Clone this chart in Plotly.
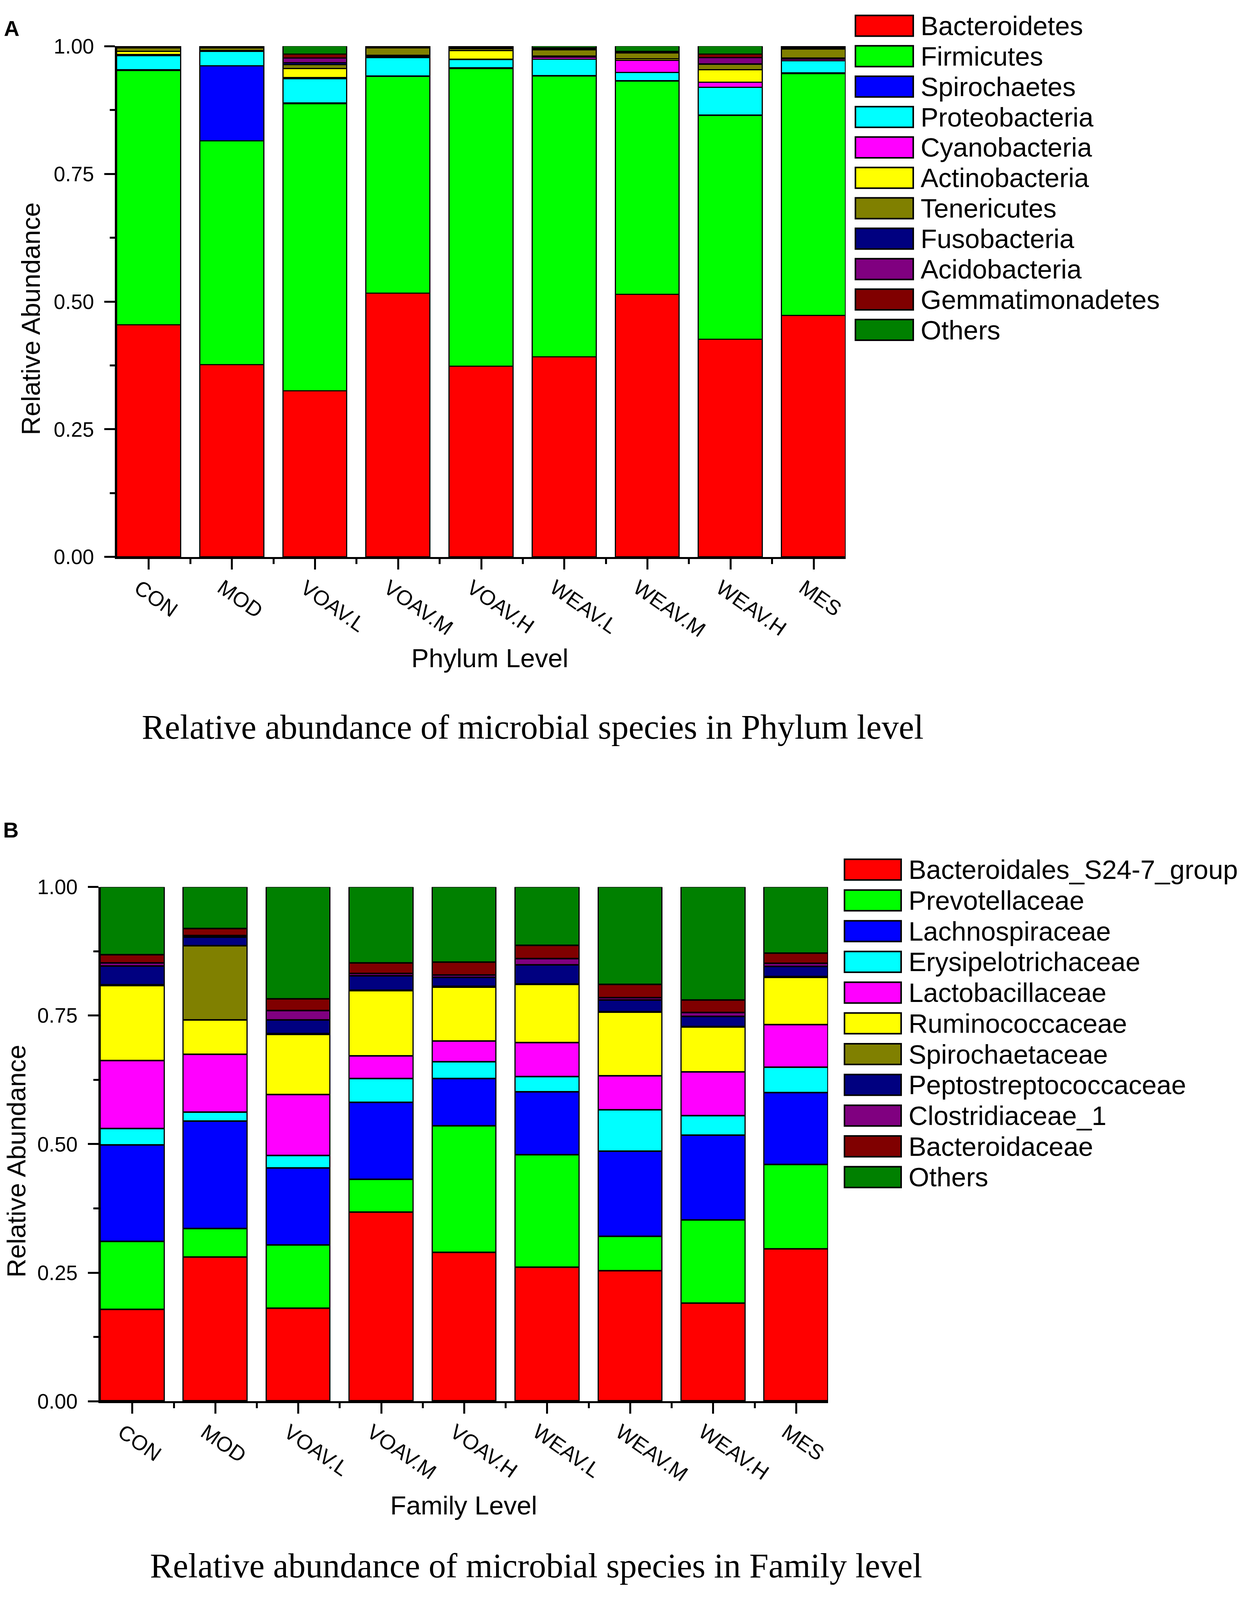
import plotly.graph_objects as go

# reference canvas used for proportional placement (figure fills the browser viewport)
W, H = 3172, 4257

groups = ["CON", "MOD", "VOAV.L", "VOAV.M", "VOAV.H", "WEAV.L", "WEAV.M", "WEAV.H", "MES"]

# ---- Phylum level (panel A) ----
phyla = ["Bacteroidetes", "Firmicutes", "Spirochaetes", "Proteobacteria", "Cyanobacteria",
         "Actinobacteria", "Tenericutes", "Fusobacteria", "Acidobacteria", "Gemmatimonadetes", "Others"]
bacteroidetes = [0.454, 0.376, 0.325, 0.516, 0.373, 0.391, 0.514, 0.426, 0.472]
firmicutes = [0.498, 0.438, 0.562, 0.424, 0.583, 0.550, 0.417, 0.438, 0.474]
spirochaetes = [0.001, 0.147, 0.001, 0.001, 0.001, 0.001, 0.001, 0.001, 0.001]
proteobacteria = [0.028, 0.028, 0.048, 0.036, 0.016, 0.032, 0.016, 0.054, 0.024]
cyanobacteria = [0.002, 0.001, 0.002, 0.002, 0.001, 0.004, 0.024, 0.010, 0.003]
actinobacteria = [0.006, 0.001, 0.018, 0.003, 0.017, 0.002, 0.003, 0.024, 0.002]
tenericutes = [0.007, 0.005, 0.007, 0.014, 0.004, 0.012, 0.011, 0.011, 0.018]
fusobacteria = [0.001, 0.002, 0.004, 0.001, 0.002, 0.002, 0.001, 0.001, 0.002]
acidobacteria = [0.001, 0.001, 0.009, 0.001, 0.001, 0.001, 0.001, 0.012, 0.001]
gemmatimonadetes = [0.001, 0.0005, 0.008, 0.001, 0.001, 0.001, 0.001, 0.007, 0.002]
others_phylum = [0.001, 0.0005, 0.016, 0.001, 0.001, 0.004, 0.011, 0.016, 0.001]
phylum_values = [bacteroidetes, firmicutes, spirochaetes, proteobacteria, cyanobacteria,
                 actinobacteria, tenericutes, fusobacteria, acidobacteria, gemmatimonadetes, others_phylum]

# ---- Family level (panel B) ----
families = ["Bacteroidales_S24-7_group", "Prevotellaceae", "Lachnospiraceae", "Erysipelotrichaceae",
            "Lactobacillaceae", "Ruminococcaceae", "Spirochaetaceae", "Peptostreptococcaceae",
            "Clostridiaceae_1", "Bacteroidaceae", "Others"]
s24_7 = [0.178, 0.280, 0.180, 0.367, 0.289, 0.260, 0.253, 0.190, 0.296]
prevotellaceae = [0.132, 0.055, 0.123, 0.064, 0.246, 0.219, 0.067, 0.162, 0.164]
lachnospiraceae = [0.188, 0.209, 0.150, 0.150, 0.092, 0.122, 0.166, 0.165, 0.140]
erysipelotrichaceae = [0.032, 0.018, 0.024, 0.046, 0.033, 0.030, 0.080, 0.038, 0.049]
lactobacillaceae = [0.132, 0.112, 0.119, 0.044, 0.040, 0.066, 0.066, 0.085, 0.083]
ruminococcaceae = [0.146, 0.067, 0.117, 0.127, 0.105, 0.113, 0.124, 0.087, 0.092]
spirochaetaceae = [0.001, 0.144, 0.001, 0.001, 0.001, 0.001, 0.001, 0.001, 0.001]
peptostreptococcaceae = [0.037, 0.017, 0.027, 0.028, 0.018, 0.037, 0.023, 0.020, 0.020]
clostridiaceae_1 = [0.006, 0.003, 0.018, 0.004, 0.004, 0.012, 0.004, 0.007, 0.006]
bacteroidaceae = [0.016, 0.014, 0.023, 0.021, 0.025, 0.026, 0.026, 0.025, 0.020]
others_family = [0.132, 0.081, 0.218, 0.148, 0.147, 0.114, 0.190, 0.220, 0.129]
family_values = [s24_7, prevotellaceae, lachnospiraceae, erysipelotrichaceae, lactobacillaceae,
                 ruminococcaceae, spirochaetaceae, peptostreptococcaceae, clostridiaceae_1,
                 bacteroidaceae, others_family]

colors = ["#FF0000", "#00FF00", "#0000FF", "#00FFFF", "#FF00FF", "#FFFF00",
          "#808000", "#000080", "#800080", "#800000", "#008000"]

y_ticks = [0, 0.25, 0.5, 0.75, 1.0]
y_ticktext = ["0.00", "0.25", "0.50", "0.75", "1.00"]

SANS = "Liberation Sans, Arial, sans-serif"
SERIF = "Liberation Serif, Times New Roman, serif"


def px_x(px):
    return px / W


def px_y(py):
    return 1 - py / H


x_idx = list(range(len(groups)))
fig = go.Figure()

for name, vals, col in zip(phyla, phylum_values, colors):
    fig.add_trace(go.Bar(x=x_idx, y=vals, name=name, width=0.77, xaxis="x", yaxis="y",
                         marker=dict(color=col, line=dict(color="black", width=3.5)),
                         hovertext=groups, showlegend=False))
for name, vals, col in zip(families, family_values, colors):
    fig.add_trace(go.Bar(x=x_idx, y=vals, name=name, width=0.77, xaxis="x2", yaxis="y2",
                         marker=dict(color=col, line=dict(color="black", width=3.5)),
                         hovertext=groups, showlegend=False))

LW = 4.5


def xaxis_cfg(domain, anchor):
    return dict(domain=domain, anchor=anchor, range=[-0.385, len(groups) - 1 + 0.385],
                showline=True, linecolor="black", linewidth=LW, mirror=False,
                ticks="outside", tickmode="array", tickvals=x_idx, ticklen=27, tickwidth=LW,
                tickcolor="black", showticklabels=False, showgrid=False, zeroline=False,
                minor=dict(tickmode="array", tickvals=[i + 0.5 for i in x_idx[:-1]],
                           ticks="outside", ticklen=13, tickwidth=LW, tickcolor="black",
                           showgrid=False))


def yaxis_cfg(domain, anchor):
    return dict(domain=domain, anchor=anchor, range=[0, 1.0], showline=True, linecolor="black",
                linewidth=LW, ticks="outside", tickmode="array", tickvals=y_ticks,
                ticktext=y_ticktext, ticklen=27, tickwidth=LW, tickcolor="black",
                tickfont=dict(family=SANS, size=53, color="black"), ticklabelstandoff=16,
                showgrid=False, zeroline=False,
                minor=dict(tickmode="array", tickvals=[0.125, 0.375, 0.625, 0.875],
                           ticks="outside", ticklen=13, tickwidth=LW, tickcolor="black",
                           showgrid=False))


annotations = []
shapes = []

# rotated category labels for both panels
for xref, yref in (("x", "y"), ("x2", "y2")):
    for i, g in enumerate(groups):
        annotations.append(dict(x=x_idx[i], y=0, xref=xref, yref=yref, text=g, showarrow=False,
                                textangle=35, xanchor="left", yanchor="top", xshift=-50, yshift=-44,
                                font=dict(family=SANS, size=54, color="black")))


def text_ann(px, py, text, size, family=SANS, angle=0, bold=False, xanchor="center"):
    t = "<b>%s</b>" % text if bold else text
    annotations.append(dict(x=px_x(px), y=px_y(py), xref="paper", yref="paper", text=t,
                            showarrow=False, textangle=angle, xanchor=xanchor, yanchor="middle",
                            borderpad=0,
                            font=dict(family=family, size=size, color="black")))


# panel A texts
text_ann(30, 46, "A", 55, bold=True)
text_ann(78, 830, "Relative Abundance", 67, angle=-90)
text_ann(1254, 1746, "Phylum Level", 67)
text_ann(1363, 1932, "Relative abundance of microbial species in Phylum level", 88, family=SERIF)
# panel B texts
text_ann(28, 2210, "B", 55, bold=True)
text_ann(42, 3104, "Relative Abundance", 67, angle=-90)
text_ann(1187, 4033, "Family Level", 67)
text_ann(1372, 4196, "Relative abundance of microbial species in Family level", 88, family=SERIF)


def legend(names, box_x0, box_x1, text_x, y0, dy, box_h):
    for i, (nm, col) in enumerate(zip(names, colors)):
        cy = y0 + dy * i
        shapes.append(dict(type="rect", xref="paper", yref="paper",
                           x0=px_x(box_x0), x1=px_x(box_x1),
                           y0=px_y(cy + box_h / 2), y1=px_y(cy - box_h / 2),
                           fillcolor=col, line=dict(color="black", width=4)))
        text_ann(text_x, cy, nm, 68, xanchor="left")


legend(phyla, 2190, 2338, 2356, 39, 82.1, 56)
legend(families, 2162, 2307, 2325, 2317, 83.0, 56)

fig.update_layout(
    autosize=True,
    margin=dict(l=0, r=0, t=0, b=0),
    barmode="stack", bargap=0,
    plot_bgcolor="white", paper_bgcolor="white",
    font=dict(family=SANS, color="black"),
    showlegend=False,
    xaxis=xaxis_cfg([px_x(299), px_x(2165)], "y"),
    yaxis=yaxis_cfg([px_y(1473), px_y(94)], "x"),
    xaxis2=xaxis_cfg([px_x(257), px_x(2120)], "y2"),
    yaxis2=yaxis_cfg([px_y(3752), px_y(2364)], "x2"),
    annotations=annotations,
    shapes=shapes,
)

fig.write_html("out.html", default_width="100vw", default_height="100vh",
               config={"displayModeBar": False, "responsive": True},
               post_script="document.body.style.margin='0';document.body.style.overflow='hidden';")
